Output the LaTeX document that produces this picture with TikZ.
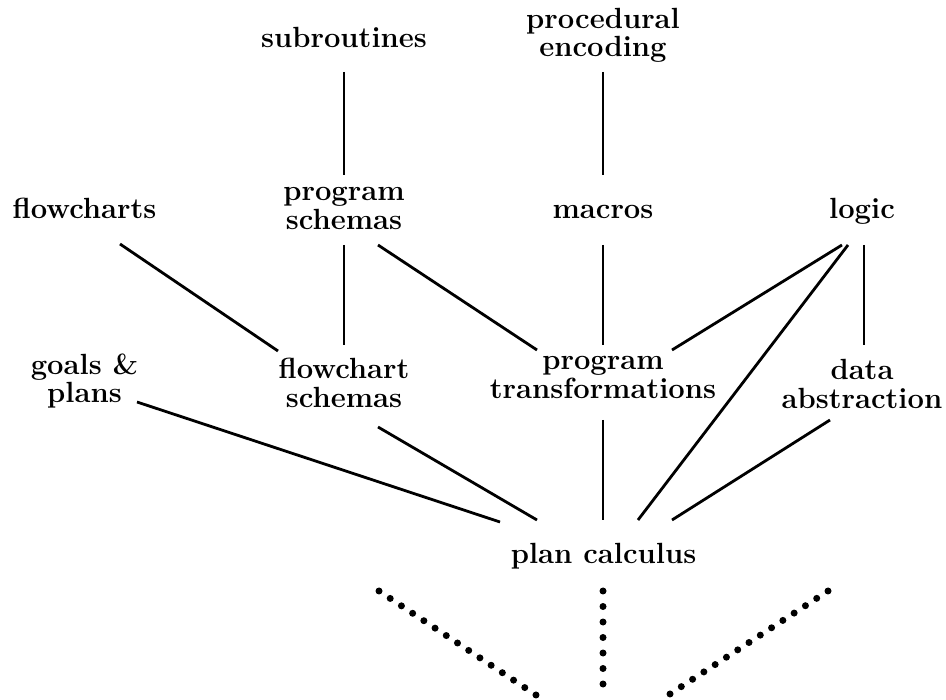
\documentclass[tikz,border=0pt]{standalone}
\usepackage{fontspec}
\begin{document}
\begin{tikzpicture}[x=1pt,y=-1pt,
        topic/.style={font=\fontsize{29.2}{28.5}\selectfont\bfseries, align=center, inner sep=0pt},
        link/.style={line width=2.8pt},
        dotline/.style={line width=7pt, line cap=round, dash pattern=on 0pt off #1}]
                \useasboundingbox (0,0) rectangle (946,700);
                % topics
                \node[topic] (subr) at (344,37.1) {subroutines};
                \node[topic] (proc) at (603,35.4) {procedural\\encoding};
                \node[topic] (flow) at (84.5,208.1) {flowcharts};
                \node[topic] (psch) at (344,208.6) {program\\schemas};
                \node[topic] (macr) at (603,211.6) {macros};
                \node[topic] (logic) at (862,210.9) {logic};
                \node[topic] (goals) at (84.5,380.9) {goals \&\\plans};
                \node[topic] (fsch) at (344,383.1) {flowchart\\schemas};
                \node[topic] (ptrans) at (603,377.2) {program\\transformations};
                \node[topic] (data) at (862,384.1) {data\\abstraction};
                \node[topic] (plan) at (603.5,555.9) {plan calculus};
                \coordinate (dl) at (536,695);
                \coordinate (dc) at (603,684);
                \coordinate (dr) at (670,694);
                % links
                \draw[link] ([shift={(0,34.9)}]subr.center) -- ([shift={(0,-33.6)}]psch.center);
                \draw[link] ([shift={(0,36.6)}]proc.center) -- ([shift={(0,-36.6)}]macr.center);
                \draw[link] ([shift={(35.5,35.9)}]flow.center) -- ([shift={(-66,-32.1)}]fsch.center);
                \draw[link] ([shift={(0,36.4)}]psch.center) -- ([shift={(0,-38.1)}]fsch.center);
                \draw[link] ([shift={(34,36.4)}]psch.center) -- ([shift={(-66,-27.2)}]ptrans.center);
                \draw[link] ([shift={(0,33.4)}]macr.center) -- ([shift={(0,-32.2)}]ptrans.center);
                \draw[link] ([shift={(-20,34.1)}]logic.center) -- ([shift={(69,-27.2)}]ptrans.center);
                \draw[link] ([shift={(-14,34.1)}]logic.center) -- ([shift={(34.5,-35.9)}]plan.center);
                \draw[link] ([shift={(2,34.1)}]logic.center) -- ([shift={(2,-39.1)}]data.center);
                \draw[link] ([shift={(52.5,21.1)}]goals.center) -- ([shift={(-103.5,-33.9)}]plan.center);
                \draw[link] ([shift={(34,43.9)}]fsch.center) -- ([shift={(-66.5,-35.9)}]plan.center);
                \draw[link] ([shift={(0,42.8)}]ptrans.center) -- ([shift={(-0.5,-35.9)}]plan.center);
                \draw[link] ([shift={(-32,35.9)}]data.center) -- ([shift={(68.5,-35.9)}]plan.center);
                % dotted rays below
                \draw[dotline=13.45pt] ([shift={(-224.5,35.1)}]plan.center) -- (dl);
                \draw[dotline=15.5pt] ([shift={(-0.5,35.1)}]plan.center) -- (dc);
                \draw[dotline=13.47pt] ([shift={(224.5,35.1)}]plan.center) -- (dr);
            \end{tikzpicture}
\end{document}
